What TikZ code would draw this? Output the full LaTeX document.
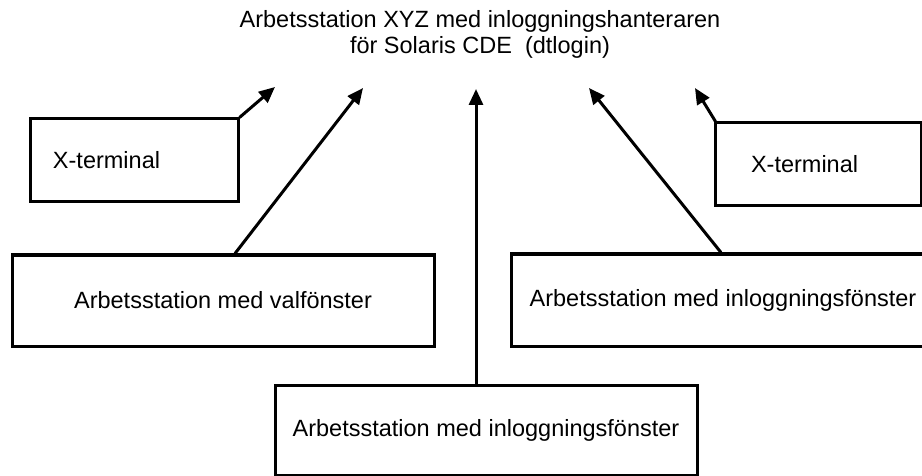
\documentclass[tikz,border=0pt]{standalone}
\usepackage{fontspec}
\setmainfont{Liberation Sans}
\usetikzlibrary{arrows.meta}

\begin{document}
\begin{tikzpicture}[x=0.5pt,y=-0.5pt,
		 font=\fontsize{11.75}{13}\selectfont,
		 client/.style={draw, line width=1.5pt, inner sep=0pt},
		 link/.style={-{Triangle[length=8pt,width=7pt]}, line width=1.5pt}]
    % \draw[help lines] (0,0) grid[step=50] (922,476);
		\useasboundingbox (0,0) rectangle (922,476);
		\node[anchor=north, inner sep=0pt, align=center] (server) at (480,10)
		    {Arbetsstation XYZ med inloggningshanteraren\\ för Solaris CDE\ \ (dtlogin)};
		\coordinate (in1) at (275,87);
		\coordinate (in2) at (363,88);
		\coordinate (in3) at (476,89);
		\coordinate (in4) at (589,88);
		\coordinate (in5) at (695,88);
		\node[client, text width=81pt, inner xsep=11.5pt, minimum height=41.5pt, align=left]
		    (xterm1)  at (134,160.5) {X-terminal};
		\node[client, text width=67pt, inner xsep=18pt, minimum height=41.5pt, align=left]
		    (xterm2)  at (818,164.5) {X-terminal};
		\node[client, minimum width=211pt, minimum height=45.5pt]
		    (chooser) at (223,300.5) {Arbetsstation med valfönster};
		\node[client, minimum width=212pt, minimum height=46pt]
		    (login1)  at (723,300) {Arbetsstation med inloggningsfönster};
		\node[client, minimum width=211pt, minimum height=45pt]
		    (login2)  at (486,430) {Arbetsstation med inloggningsfönster};
		\draw[link]  (xterm1.north east) -- (in1);
		\draw[link]  ([xshift=6pt]chooser.north) -- (in2);
		\draw[link]  ([xshift=-5pt]login2.north) -- (in3);
		\draw[link]  ([xshift=-1pt]login1.north) -- (in4);
		\draw[link]  ([xshift=1pt]xterm2.north west) -- (in5);
\end{tikzpicture}
\end{document}
